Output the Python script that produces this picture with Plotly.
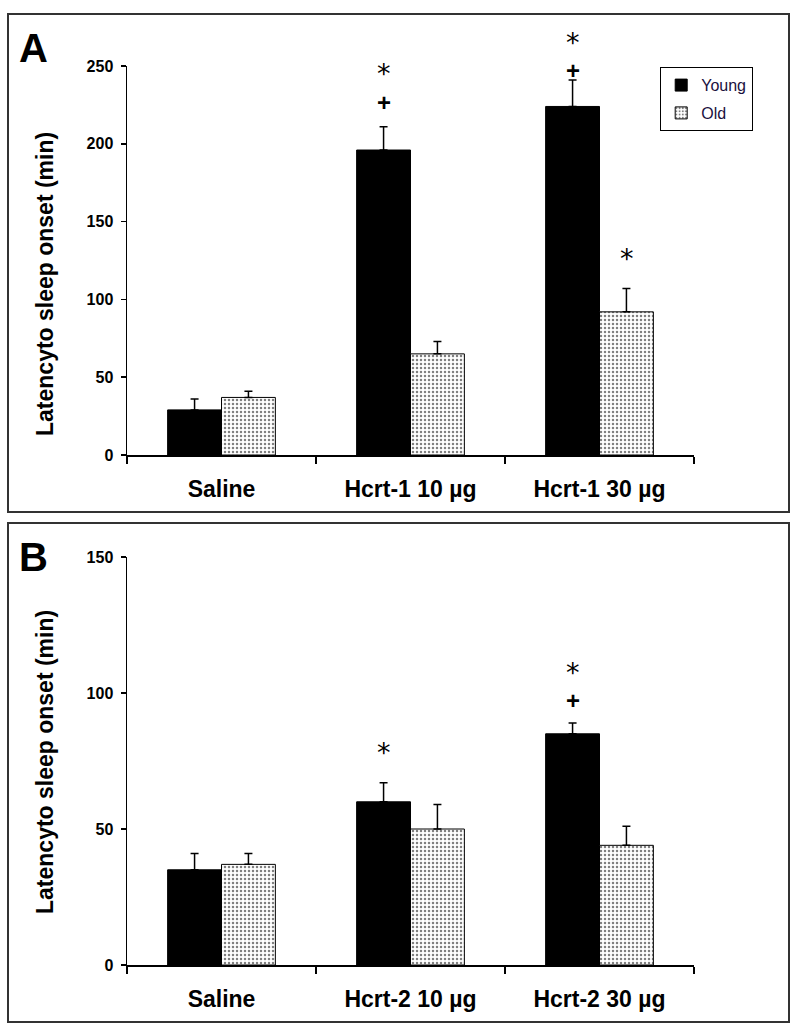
import plotly.graph_objects as go

W, H = 799, 1035

# ---------------- data ----------------
cats_a = ["Saline", "Hcrt-1 10 µg", "Hcrt-1 30 µg"]
young_a = [29, 196, 224]
young_a_err = [7, 15, 17]
old_a = [37, 65, 92]
old_a_err = [4, 8, 15]

cats_b = ["Saline", "Hcrt-2 10 µg", "Hcrt-2 30 µg"]
young_b = [35, 60, 85]
young_b_err = [6, 7, 4]
old_b = [37, 50, 44]
old_b_err = [4, 9, 7]

ticks_a = [0, 50, 100, 150, 200, 250]
ticks_b = [0, 50, 100, 150]

series_names = ["Young", "Old"]
ytitle = "Latencyto sleep onset (min)"

# ---------------- figure ----------------
def px_x(p):
    return p / W

def px_y(p):
    return 1 - p / H

fig = go.Figure()

FONT = "Liberation Sans, Arial, sans-serif"

def add_panel(cats, yv, ye, ov, oe, xa, ya, showlegend):
    fig.add_trace(go.Bar(
        x=cats, y=yv, name=series_names[0], xaxis=xa, yaxis=ya,
        marker=dict(color="black", line=dict(color="black", width=1)),
        error_y=dict(type="data", array=ye, arrayminus=[0] * len(ye), symmetric=False,
                     color="black", thickness=1.5, width=4),
        showlegend=showlegend, legendgroup="y",
    ))
    fig.add_trace(go.Bar(
        x=cats, y=ov, name=series_names[1], xaxis=xa, yaxis=ya,
        marker=dict(color="white", line=dict(color="black", width=1),
                    pattern=dict(shape=".", fgcolor="black", bgcolor="white",
                                 size=4, solidity=0.3)),
        error_y=dict(type="data", array=oe, arrayminus=[0] * len(oe), symmetric=False,
                     color="black", thickness=1.5, width=4),
        showlegend=showlegend, legendgroup="o",
    ))

add_panel(cats_a, young_a, young_a_err, old_a, old_a_err, "x", "y", True)
add_panel(cats_b, young_b, young_b_err, old_b, old_b_err, "x2", "y2", False)

xdom = [px_x(127), px_x(694)]
xcommon = dict(
    domain=xdom, showline=True, linecolor="black", linewidth=1.5,
    ticks="outside", tickson="boundaries", ticklen=7, tickwidth=1.5, tickcolor="black",
    tickfont=dict(family=FONT, size=23, color="black", weight="bold"),
    ticklabelstandoff=13, showgrid=False, zeroline=False, fixedrange=True,
)
ycommon = dict(
    showline=True, linecolor="black", linewidth=1.5,
    ticks="outside", ticklen=5, tickwidth=1.5, tickcolor="black",
    tickfont=dict(family=FONT, size=16, color="black", weight="bold"),
    ticklabelstandoff=4, showgrid=False, zeroline=False, fixedrange=True,
)

fig.update_layout(
    width=W, height=H, autosize=False,
    margin=dict(l=0, r=0, t=0, b=0, pad=0, autoexpand=False),
    paper_bgcolor="white", plot_bgcolor="white",
    barmode="group", bargap=0.43, bargroupgap=0,
    font=dict(family=FONT, color="black"),
    xaxis=dict(xcommon, anchor="y"),
    yaxis=dict(ycommon, domain=[px_y(455), px_y(66)], range=[0, 250],
               tickvals=ticks_a, anchor="x"),
    xaxis2=dict(xcommon, anchor="y2"),
    yaxis2=dict(ycommon, domain=[px_y(965), px_y(557)], range=[0, 150],
                tickvals=ticks_b, anchor="x2"),
    legend=dict(x=px_x(660), y=px_y(67), xanchor="left", yanchor="top",
                bordercolor="black", borderwidth=1.2, bgcolor="white",
                font=dict(family=FONT, size=16, color="#1a1040"),
                itemwidth=30, tracegroupgap=4),
)

# outer panel boxes
for top, bot in [(14, 512), (523, 1022)]:
    fig.add_shape(type="rect", xref="paper", yref="paper",
                  x0=px_x(8), x1=px_x(789), y0=px_y(bot), y1=px_y(top),
                  line=dict(color="#333333", width=2), layer="below")

# panel letters
for letter, yc in [("A", 48), ("B", 557)]:
    fig.add_annotation(text=letter, xref="paper", yref="paper", x=px_x(33), y=px_y(yc),
                       xanchor="center", yanchor="middle",
                       showarrow=False, font=dict(family=FONT, size=40, color="black", weight="bold"))

# y titles
for yc in [284, 762]:
    fig.add_annotation(text=ytitle, xref="paper", yref="paper", x=px_x(45), y=px_y(yc),
                       xanchor="center", yanchor="middle",
                       textangle=-90, showarrow=False,
                       font=dict(family=FONT, size=23, color="black", weight="bold"))

# significance marks: (xaxis, yaxis, category, value, err, side, symbol, yshift)
marks = [
    ("x", "y", cats_a[1], young_a[1], young_a_err[1], -1, "*", 53),
    ("x", "y", cats_a[1], young_a[1], young_a_err[1], -1, "+", 24),
    ("x", "y", cats_a[2], young_a[2], young_a_err[2], -1, "*", 38),
    ("x", "y", cats_a[2], young_a[2], young_a_err[2], -1, "+", 10),
    ("x", "y", cats_a[2], old_a[2], old_a_err[2], 1, "*", 30),
    ("x2", "y2", cats_b[1], young_b[1], young_b_err[1], -1, "*", 30),
    ("x2", "y2", cats_b[2], young_b[2], young_b_err[2], -1, "*", 50),
    ("x2", "y2", cats_b[2], young_b[2], young_b_err[2], -1, "+", 22),
]
for xa, ya, c, v, e, side, sym, ys in marks:
    if sym == "*":
        f = dict(family="DejaVu Sans", size=27, color="black")
    else:
        f = dict(family=FONT, size=24, color="black", weight="bold")
    fig.add_annotation(text=sym, xref=xa, yref=ya, x=c, y=v + e, xshift=side * 27,
                       yshift=ys, showarrow=False, xanchor="center", yanchor="middle", font=f)

fig.write_html("out.html", config={"displayModeBar": False, "staticPlot": True},
               post_script="document.body.style.margin='0';document.body.style.overflow='hidden';")
